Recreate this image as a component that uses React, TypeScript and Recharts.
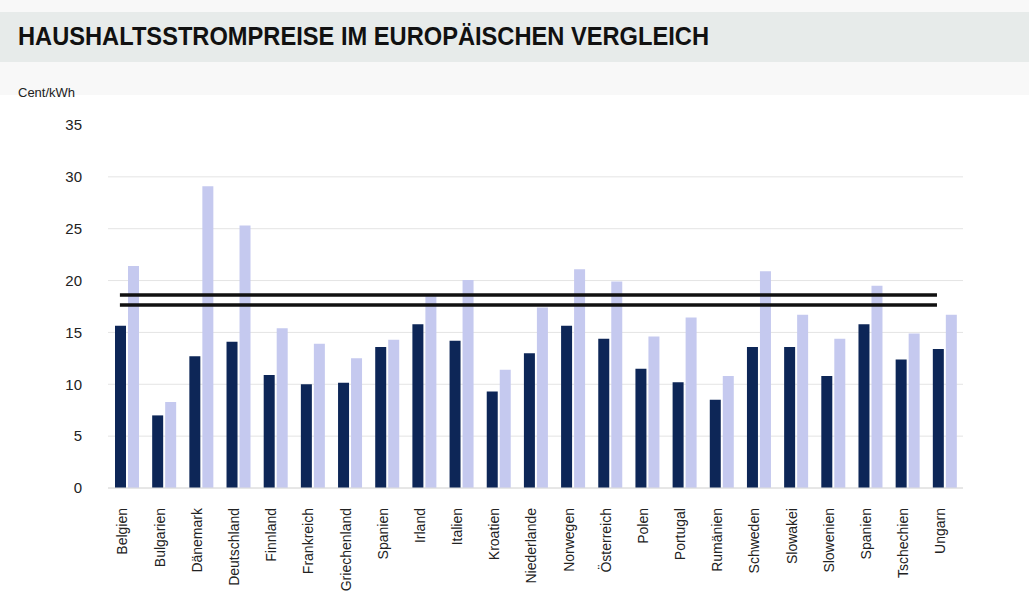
import React from 'react';
import { BarChart, Bar, XAxis, YAxis, CartesianGrid, ReferenceLine } from 'recharts';

const laender = [
  'Belgien', 'Bulgarien', 'Dänemark', 'Deutschland', 'Finnland', 'Frankreich', 'Griechenland',
  'Spanien', 'Irland', 'Italien', 'Kroatien', 'Niederlande', 'Norwegen', 'Österreich', 'Polen',
  'Portugal', 'Rumänien', 'Schweden', 'Slowakei', 'Slowenien', 'Spanien', 'Tschechien', 'Ungarn',
];
const werteDunkel = [
  15.65, 7.0, 12.7, 14.1, 10.9, 10.0, 10.15, 13.6, 15.8, 14.2, 9.3, 13.0,
  15.65, 14.4, 11.5, 10.2, 8.5, 13.6, 13.6, 10.8, 15.8, 12.4, 13.4,
];
const werteHell = [
  21.4, 8.3, 29.1, 25.3, 15.4, 13.9, 12.5, 14.3, 18.5, 20.05, 11.4, 17.4,
  21.1, 19.9, 14.6, 16.45, 10.8, 20.9, 16.7, 14.4, 19.5, 14.9, 16.7,
];
const yTicks = [0, 5, 10, 15, 20, 25, 30, 35];
const gridWerte = [0, 5, 10, 15, 20, 25, 30];
const mittelwerte = [18.6, 17.65];
// Anfang und Ende der Linien, in Kategorie-Einheiten
const linieVon = 0.32;
const linieBis = 22.3;

const daten = laender.map((land, i) => ({ land, dunkel: werteDunkel[i], hell: werteHell[i] }));

const LandTick = (props: any) => {
  const { x, y, payload } = props;
  return (
    <text
      x={x - 4}
      y={y}
      transform={`rotate(-90, ${x - 4}, ${y})`}
      textAnchor="end"
      dy="0.35em"
      fontSize={14}
      fill="#222"
      fontFamily="Arial, 'Liberation Sans', sans-serif"
    >
      {payload.value}
    </text>
  );
};

// kürzt die Linie auf den Bereich linieVon..linieBis der Kategorien
const KurzeLinie = (props: any) => {
  const { x1, x2, y1, y2 } = props;
  const band = (x2 - x1) / laender.length;
  return (
    <line
      x1={x1 + linieVon * band}
      x2={x1 + linieBis * band}
      y1={y1}
      y2={y2}
      stroke="#111"
      strokeWidth={3.5}
    />
  );
};

export default function App() {
  return (
    <div style={{ position: 'absolute', top: 0, left: 0, width: 1029, height: 592, background: '#fff', overflow: 'hidden' }}>
      <div style={{ position: 'absolute', top: 0, left: 0, width: 1029, height: 95, background: '#f8f8f8' }} />
      <div style={{ position: 'absolute', top: 12, left: 0, width: 1029, height: 50, background: '#e7ebea' }} />
      <svg width={1029} height={100} style={{ position: 'absolute', top: 0, left: 0 }}>
        <text
          x={18}
          y={45}
          fontSize={25}
          fontWeight="bold"
          fill="#111"
          textLength={691}
          lengthAdjust="spacingAndGlyphs"
          fontFamily="'Liberation Sans Narrow', Arial, 'Liberation Sans', sans-serif"
        >
          HAUSHALTSSTROMPREISE IM EUROPÄISCHEN VERGLEICH
        </text>
        <text x={18} y={97} fontSize={13} fill="#222" fontFamily="Arial, 'Liberation Sans', sans-serif">
          Cent/kWh
        </text>
      </svg>
      <div style={{ position: 'absolute', top: 0, left: 0 }}>
        <BarChart
          width={1029}
          height={592}
          data={daten}
          margin={{ top: 125, right: 66, bottom: 0, left: 68 }}
          barSize={11}
          barGap={2}
        >
          <CartesianGrid vertical={false} stroke="#e4e4e4" horizontalValues={gridWerte} />
          <XAxis
            dataKey="land"
            interval={0}
            height={104}
            tickLine={false}
            tickSize={0}
            tickMargin={20}
            axisLine={{ stroke: '#dcdcdc' }}
            tick={<LandTick />}
          />
          <YAxis
            domain={[0, 35]}
            ticks={yTicks}
            width={40}
            axisLine={false}
            tickLine={false}
            tickSize={0}
            tickMargin={26}
            tick={{ fontSize: 15, fill: '#222', fontFamily: "Arial, 'Liberation Sans', sans-serif" }}
          />
          <Bar dataKey="dunkel" fill="#0d2657" isAnimationActive={false} />
          <Bar dataKey="hell" fill="#c5c9ef" isAnimationActive={false} />
          {mittelwerte.map((w) => (
            <ReferenceLine key={w} y={w} stroke="#111" strokeWidth={3.5} shape={KurzeLinie} />
          ))}
        </BarChart>
      </div>
    </div>
  );
}
